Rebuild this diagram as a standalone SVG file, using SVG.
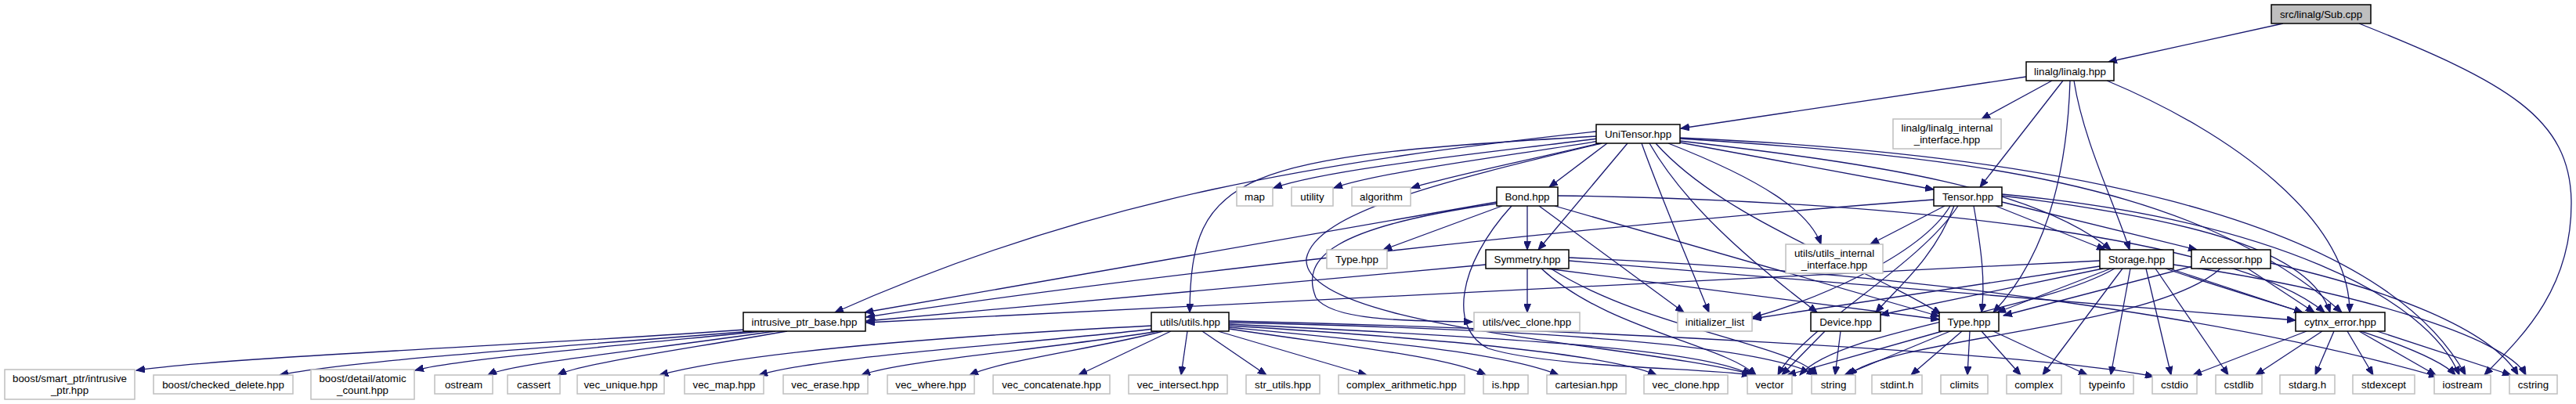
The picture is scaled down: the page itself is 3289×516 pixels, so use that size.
<svg xmlns="http://www.w3.org/2000/svg" width="3289" height="516" viewBox="0 0 3289 516">
<style>
.b{fill:#fff;stroke:#000;stroke-width:1.5}
.g{fill:#fff;stroke:#bfbfbf;stroke-width:1.5}
.s{fill:#bfbfbf;stroke:#000;stroke-width:1.5}
text{font-family:"Liberation Sans",Arial,Helvetica,sans-serif;font-size:13.33px;text-anchor:middle;fill:#000}
#edges path{fill:none;stroke:#191970;stroke-width:1.3;marker-end:url(#a)}
</style>
<defs>
<marker id="a" markerWidth="12" markerHeight="9" refX="11" refY="4.5" orient="auto" markerUnits="userSpaceOnUse"><path d="M0,0 L11,4.5 L0,9 Z" fill="#191970" stroke="#191970" stroke-width="1"/></marker>
</defs>
<rect width="3289" height="516" fill="#fff"/>
<g id="edges">
<path d="M2915,30 L2692,79"/>
<path d="M3012,30 C3200,105 3283,150 3283,260 C3283,370 3220,430 3172,479"/>
<path d="M2587,98 L2146,164"/>
<path d="M2620,103 L2530,152"/>
<path d="M2634,103 L2528,239"/>
<path d="M2643,103 C2640,200 2620,320 2545,399"/>
<path d="M2648,103 C2660,180 2700,260 2719,319"/>
<path d="M2690,103 C2850,170 3000,280 3000,399"/>
<path d="M2040,177 C1900,195 1700,215 1626,240"/>
<path d="M2042,180 C1920,200 1760,220 1703,240"/>
<path d="M2046,182 C1950,205 1850,225 1802,240"/>
<path d="M2038,168 C1700,205 1400,250 1066,399"/>
<path d="M2038,174 C1580,200 1520,220 1519,399"/>
<path d="M2052,183 L1978,239"/>
<path d="M2078,183 L1964,319"/>
<path d="M2096,183 C2120,250 2150,320 2182,399"/>
<path d="M2106,183 C2150,260 2230,330 2320,399"/>
<path d="M2114,183 C2200,280 2380,340 2478,401"/>
<path d="M2045,183 C1850,230 1680,270 1668,330 C1660,420 2100,440 2240,479"/>
<path d="M2130,183 C2250,230 2310,270 2325,312"/>
<path d="M2145,182 L2469,242"/>
<path d="M2145,180 C2400,210 2600,240 2695,319"/>
<path d="M2145,177 C2500,200 2800,230 2990,399"/>
<path d="M2145,176 C2700,200 3050,300 3148,479"/>
<path d="M2469,255 C2000,290 1400,360 1106,405"/>
<path d="M2483,263 L2388,312"/>
<path d="M2490,263 C2450,330 2300,390 2238,405"/>
<path d="M2495,263 C2470,330 2420,370 2395,399"/>
<path d="M2520,263 C2530,320 2535,360 2530,399"/>
<path d="M2548,263 L2688,319"/>
<path d="M2556,258 L2805,319"/>
<path d="M2556,250 C2800,280 2950,320 2975,399"/>
<path d="M2556,248 C2900,280 3100,380 3140,479"/>
<path d="M2500,263 C2450,340 2300,420 2270,479"/>
<path d="M1911,258 L1104,399"/>
<path d="M1918,263 L1766,319"/>
<path d="M1950,263 L1950,319"/>
<path d="M1965,263 L2150,399"/>
<path d="M1985,263 L2476,404"/>
<path d="M1989,250 C2400,255 2850,300 2968,399"/>
<path d="M1930,263 C1860,340 1850,420 1900,445 C1980,470 2180,470 2235,479"/>
<path d="M1911,260 C1700,290 1660,330 1680,380 C1700,410 1800,410 1880,411"/>
<path d="M1897,338 L1106,410"/>
<path d="M1950,343 L1950,399"/>
<path d="M1975,343 L2476,408"/>
<path d="M2003,333 L2931,409"/>
<path d="M1968,343 C2050,420 2200,440 2242,479"/>
<path d="M1980,343 C2100,420 2290,440 2320,479"/>
<path d="M2003,329 C2500,350 2900,420 3112,481"/>
<path d="M2681,333 L1106,412"/>
<path d="M2681,340 L2238,407"/>
<path d="M2685,343 L2401,402"/>
<path d="M2695,343 L2550,399"/>
<path d="M2700,343 C2600,400 2350,420 2298,479"/>
<path d="M2720,343 L2695,479"/>
<path d="M2710,343 L2608,479"/>
<path d="M2740,343 L2772,479"/>
<path d="M2752,343 L2845,479"/>
<path d="M2765,343 C2900,390 3100,440 3135,479"/>
<path d="M2775,338 C3000,370 3200,430 3225,479"/>
<path d="M2770,343 L2940,399"/>
<path d="M2800,340 L2558,403"/>
<path d="M2835,343 C2750,420 2420,430 2360,479"/>
<path d="M2870,343 L2955,399"/>
<path d="M2899,336 C3050,370 3180,420 3215,479"/>
<path d="M2330,423 L2275,479"/>
<path d="M2350,423 L2343,479"/>
<path d="M2480,423 L2282,479"/>
<path d="M2490,423 L2355,479"/>
<path d="M2505,423 L2440,479"/>
<path d="M2515,423 L2512,479"/>
<path d="M2530,423 L2580,479"/>
<path d="M2545,423 L2665,479"/>
<path d="M2945,423 L2800,479"/>
<path d="M2965,423 L2880,479"/>
<path d="M2980,423 L2956,479"/>
<path d="M2997,423 L3030,479"/>
<path d="M3012,423 L3110,479"/>
<path d="M3035,423 L3206,479"/>
<path d="M951,421 C700,440 300,455 174,473"/>
<path d="M960,423 C750,440 450,460 357,479"/>
<path d="M975,423 C750,445 580,460 530,473"/>
<path d="M990,423 C800,450 650,465 623,479"/>
<path d="M1005,423 C850,450 740,465 712,479"/>
<path d="M1471,416 C1200,430 950,450 842,479"/>
<path d="M1474,420 C1300,440 1050,455 969,479"/>
<path d="M1478,423 C1350,445 1150,460 1100,479"/>
<path d="M1485,423 C1400,445 1280,460 1238,479"/>
<path d="M1495,423 L1377,479"/>
<path d="M1516,423 L1508,479"/>
<path d="M1535,423 L1617,479"/>
<path d="M1555,423 L1745,479"/>
<path d="M1569,420 C1700,440 1850,455 1897,479"/>
<path d="M1569,418 C1750,435 1920,450 1990,479"/>
<path d="M1569,416 C1800,430 2050,450 2115,479"/>
<path d="M1569,414 C1900,430 2180,445 2235,479"/>
<path d="M1569,412 C1950,420 2250,440 2318,479"/>
<path d="M1569,410 C2000,420 2600,450 2750,481"/>
</g>
<g id="n-sub"><rect class="s" x="2900" y="6" width="127" height="24"/><text x="2963.5" y="23">src/linalg/Sub.cpp</text></g>
<g id="n-linalg"><rect class="b" x="2587" y="79" width="112" height="24"/><text x="2643" y="96">linalg/linalg.hpp</text></g>
<g id="n-unitensor"><rect class="b" x="2038" y="159" width="107" height="24"/><text x="2091.5" y="176">UniTensor.hpp</text></g>
<g id="n-linalg-int"><rect class="g" x="2417" y="152" width="138" height="38"/><text x="2486" y="168">linalg/linalg_internal</text><text x="2486" y="183">_interface.hpp</text></g>
<g id="n-map"><rect class="g" x="1579" y="239" width="46" height="24"/><text x="1602" y="256">map</text></g>
<g id="n-utility"><rect class="g" x="1649" y="239" width="53" height="24"/><text x="1675.5" y="256">utility</text></g>
<g id="n-algorithm"><rect class="g" x="1726" y="239" width="75" height="24"/><text x="1763.5" y="256">algorithm</text></g>
<g id="n-bond"><rect class="b" x="1911" y="239" width="78" height="24"/><text x="1950" y="256">Bond.hpp</text></g>
<g id="n-tensor"><rect class="b" x="2469" y="239" width="87" height="24"/><text x="2512.5" y="256">Tensor.hpp</text></g>
<g id="n-typeg"><rect class="g" x="1694" y="319" width="77" height="24"/><text x="1732.5" y="336">Type.hpp</text></g>
<g id="n-symmetry"><rect class="b" x="1897" y="319" width="106" height="24"/><text x="1950" y="336">Symmetry.hpp</text></g>
<g id="n-utils-int"><rect class="g" x="2280" y="312" width="124" height="37"/><text x="2342" y="328">utils/utils_internal</text><text x="2342" y="343">_interface.hpp</text></g>
<g id="n-storage"><rect class="b" x="2681" y="319" width="94" height="24"/><text x="2728" y="336">Storage.hpp</text></g>
<g id="n-accessor"><rect class="b" x="2798" y="319" width="101" height="24"/><text x="2848.5" y="336">Accessor.hpp</text></g>
<g id="n-ipb"><rect class="b" x="949" y="399" width="156" height="24"/><text x="1027" y="416">intrusive_ptr_base.hpp</text></g>
<g id="n-utils"><rect class="b" x="1470" y="399" width="99" height="24"/><text x="1519.5" y="416">utils/utils.hpp</text></g>
<g id="n-uvc"><rect class="g" x="1882" y="399" width="135" height="24"/><text x="1949.5" y="416">utils/vec_clone.hpp</text></g>
<g id="n-init"><rect class="g" x="2142" y="399" width="95" height="24"/><text x="2189.5" y="416">initializer_list</text></g>
<g id="n-device"><rect class="b" x="2312" y="399" width="89" height="24"/><text x="2356.5" y="416">Device.hpp</text></g>
<g id="n-type"><rect class="b" x="2476" y="399" width="76" height="24"/><text x="2514" y="416">Type.hpp</text></g>
<g id="n-cerr"><rect class="b" x="2931" y="399" width="114" height="24"/><text x="2988" y="416">cytnx_error.hpp</text></g>
<g id="n-smart"><rect class="g" x="6" y="472" width="166" height="38"/><text x="89" y="488">boost/smart_ptr/intrusive</text><text x="89" y="503">_ptr.hpp</text></g>
<g id="n-checked"><rect class="g" x="196" y="479" width="178" height="24"/><text x="285" y="496">boost/checked_delete.hpp</text></g>
<g id="n-atomic"><rect class="g" x="397" y="472" width="132" height="38"/><text x="463" y="488">boost/detail/atomic</text><text x="463" y="503">_count.hpp</text></g>
<g id="n-ostream"><rect class="g" x="555" y="479" width="74" height="24"/><text x="592" y="496">ostream</text></g>
<g id="n-cassert"><rect class="g" x="648" y="479" width="67" height="24"/><text x="681.5" y="496">cassert</text></g>
<g id="n-vunique"><rect class="g" x="737" y="479" width="111" height="24"/><text x="792.5" y="496">vec_unique.hpp</text></g>
<g id="n-vmap"><rect class="g" x="874" y="479" width="101" height="24"/><text x="924.5" y="496">vec_map.hpp</text></g>
<g id="n-verase"><rect class="g" x="1000" y="479" width="108" height="24"/><text x="1054" y="496">vec_erase.hpp</text></g>
<g id="n-vwhere"><rect class="g" x="1133" y="479" width="111" height="24"/><text x="1188.5" y="496">vec_where.hpp</text></g>
<g id="n-vconcat"><rect class="g" x="1268" y="479" width="149" height="24"/><text x="1342.5" y="496">vec_concatenate.hpp</text></g>
<g id="n-vinter"><rect class="g" x="1441" y="479" width="126" height="24"/><text x="1504" y="496">vec_intersect.hpp</text></g>
<g id="n-strutils"><rect class="g" x="1591" y="479" width="94" height="24"/><text x="1638" y="496">str_utils.hpp</text></g>
<g id="n-complexar"><rect class="g" x="1709" y="479" width="161" height="24"/><text x="1789.5" y="496">complex_arithmetic.hpp</text></g>
<g id="n-is"><rect class="g" x="1894" y="479" width="57" height="24"/><text x="1922.5" y="496">is.hpp</text></g>
<g id="n-cartesian"><rect class="g" x="1975" y="479" width="101" height="24"/><text x="2025.5" y="496">cartesian.hpp</text></g>
<g id="n-vclone"><rect class="g" x="2099" y="479" width="107" height="24"/><text x="2152.5" y="496">vec_clone.hpp</text></g>
<g id="n-vector"><rect class="g" x="2231" y="479" width="57" height="24"/><text x="2259.5" y="496">vector</text></g>
<g id="n-string"><rect class="g" x="2313" y="479" width="56" height="24"/><text x="2341" y="496">string</text></g>
<g id="n-stdint"><rect class="g" x="2390" y="479" width="64" height="24"/><text x="2422" y="496">stdint.h</text></g>
<g id="n-climits"><rect class="g" x="2478" y="479" width="60" height="24"/><text x="2508" y="496">climits</text></g>
<g id="n-complex"><rect class="g" x="2562" y="479" width="70" height="24"/><text x="2597" y="496">complex</text></g>
<g id="n-typeinfo"><rect class="g" x="2656" y="479" width="68" height="24"/><text x="2690" y="496">typeinfo</text></g>
<g id="n-cstdio"><rect class="g" x="2748" y="479" width="57" height="24"/><text x="2776.5" y="496">cstdio</text></g>
<g id="n-cstdlib"><rect class="g" x="2829" y="479" width="59" height="24"/><text x="2858.5" y="496">cstdlib</text></g>
<g id="n-stdarg"><rect class="g" x="2911" y="479" width="70" height="24"/><text x="2946" y="496">stdarg.h</text></g>
<g id="n-stdexcept"><rect class="g" x="3004" y="479" width="79" height="24"/><text x="3043.5" y="496">stdexcept</text></g>
<g id="n-iostream"><rect class="g" x="3108" y="479" width="72" height="24"/><text x="3144" y="496">iostream</text></g>
<g id="n-cstring"><rect class="g" x="3204" y="479" width="61" height="24"/><text x="3234.5" y="496">cstring</text></g>
</svg>
